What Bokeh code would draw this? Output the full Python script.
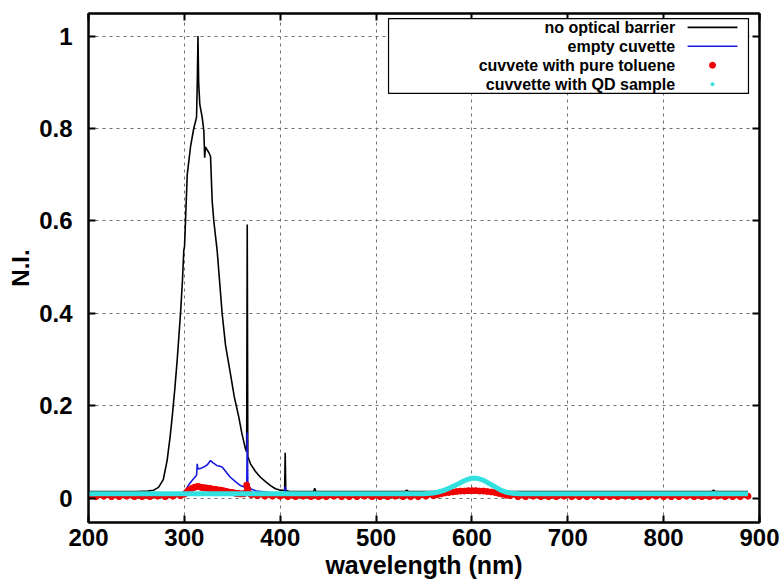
from bokeh.plotting import figure
from bokeh.models import (FixedTicker, CustomJSTickFormatter, LinearAxis, BoxAnnotation, Label,
                          Range1d, Title)
from bokeh.embed import file_html
from bokeh.resources import INLINE

# ---------------- data ----------------
x_ticks = [200, 300, 400, 500, 600, 700, 800, 900]
y_ticks = [0, 0.2, 0.4, 0.6, 0.8, 1]

series_names = ["no optical barrier", "empty cuvette",
                "cuvvete with pure toluene", "cuvvette with QD sample"]

# no optical barrier (black line)
bare_nm = [200, 250, 262, 268, 273, 278, 282, 285, 287.3, 290, 292.5, 296, 298, 299.4,
           300.2, 301.2, 303, 306.4, 309.8, 312.7, 313.5, 314.2, 314.9, 316.1, 318.6,
           320.3, 321.2, 322, 323.2, 325.5, 327.3, 329, 330.7, 334.2, 339.4, 343, 348.1,
           352, 356.8, 360, 363.8, 365.0, 365.6, 366.2, 369, 374, 379.4, 385, 389.9, 395,
           400.3, 404.6, 405.2, 405.8, 410, 435, 436, 437, 530, 532, 534, 850, 852, 854, 888]
bare_ni = [0.014, 0.014, 0.015, 0.017, 0.023, 0.040, 0.081, 0.130, 0.175, 0.235, 0.298,
           0.400, 0.470, 0.536, 0.545, 0.600, 0.700, 0.760, 0.800, 0.824, 0.900, 1.000,
           0.900, 0.853, 0.824, 0.795, 0.737, 0.760, 0.756, 0.748, 0.740, 0.644, 0.600,
           0.536, 0.400, 0.330, 0.269, 0.220, 0.175, 0.140, 0.106, 0.100, 0.592, 0.090,
           0.074, 0.058, 0.045, 0.035, 0.027, 0.020, 0.017, 0.016, 0.098, 0.016, 0.014,
           0.014, 0.021, 0.014, 0.014, 0.017, 0.014, 0.014, 0.017, 0.014, 0.014]

# empty cuvette (blue line)
empty_nm = [200, 298, 301, 305, 308, 311, 312.8, 313.4, 314, 315, 318, 320.3, 324, 327.3,
            330, 334.2, 337, 339.4, 344, 348, 353, 358.5, 363.8, 365.1, 365.6, 366.2, 369,
            375, 390, 404.6, 405.2, 405.9, 888]
empty_ni = [0.011, 0.011, 0.016, 0.030, 0.038, 0.045, 0.050, 0.074, 0.065, 0.063, 0.065,
            0.067, 0.072, 0.081, 0.076, 0.070, 0.069, 0.067, 0.055, 0.045, 0.036, 0.027,
            0.023, 0.025, 0.142, 0.030, 0.020, 0.015, 0.012, 0.011, 0.025, 0.011, 0.011]

# cuvette with pure toluene (red points)
tol_nm = [200, 208, 216, 224, 232, 240, 248, 256, 264, 272, 280, 288, 296,
          300, 302, 304, 306, 308, 310, 312, 314, 316, 318, 320, 322, 324, 326, 328, 330,
          332, 334, 336, 338, 340, 342, 344, 346, 348, 350, 352, 354, 356, 358, 360, 362,
          364, 365, 366, 368, 370,
          376, 384, 392, 400, 408, 416, 424, 432, 440, 448, 456, 464, 472, 480, 488, 496,
          504, 512, 520, 528, 536, 544, 552,
          560, 564, 568, 572, 576, 580, 584, 588, 592, 596, 600, 604, 608, 612, 616, 620,
          624, 628, 632, 636, 640,
          648, 656, 664, 672, 680, 688, 696, 704, 712, 720, 728, 736, 744, 752, 760, 768,
          776, 784, 792, 800, 808, 816, 824, 832, 840, 848, 856, 864, 872, 880, 888]
tol_ni = [0.003, 0.003, 0.004, 0.003, 0.003, 0.004, 0.003, 0.003, 0.003, 0.004, 0.003,
          0.004, 0.005,
          0.008, 0.012, 0.016, 0.019, 0.021, 0.023, 0.024, 0.025, 0.024, 0.023, 0.022,
          0.022, 0.021, 0.021, 0.020, 0.019, 0.019, 0.018, 0.017, 0.017, 0.016, 0.015,
          0.014, 0.013, 0.012, 0.012, 0.011, 0.010, 0.010, 0.009, 0.009, 0.009, 0.011,
          0.028, 0.020, 0.010, 0.007,
          0.005, 0.004, 0.004, 0.004, 0.003, 0.003, 0.004, 0.003, 0.003, 0.003, 0.004,
          0.003, 0.003, 0.003, 0.004, 0.003, 0.003, 0.003, 0.004, 0.003, 0.003, 0.003, 0.004,
          0.005, 0.007, 0.009, 0.011, 0.012, 0.013, 0.014, 0.015, 0.015, 0.016, 0.016,
          0.016, 0.015, 0.015, 0.014, 0.013, 0.012, 0.010, 0.008, 0.006, 0.005,
          0.003, 0.003, 0.004, 0.003, 0.003, 0.003, 0.004, 0.003, 0.003, 0.003, 0.004,
          0.003, 0.003, 0.003, 0.004, 0.003, 0.003, 0.003, 0.004, 0.003, 0.003, 0.003,
          0.004, 0.003, 0.003, 0.003, 0.004, 0.003, 0.003, 0.003, 0.004]

# cuvette with QD sample (cyan points, dense)
qd_nm = [200, 300, 400, 500, 540, 550, 560, 565, 570, 575, 580, 585, 590, 595, 600, 605,
         610, 615, 620, 625, 630, 635, 640, 645, 650, 660, 700, 800, 888]
qd_ni = [0.009, 0.009, 0.009, 0.009, 0.009, 0.009, 0.011, 0.013, 0.016, 0.020, 0.025,
         0.030, 0.035, 0.040, 0.043, 0.043, 0.040, 0.035, 0.029, 0.023, 0.017, 0.013,
         0.011, 0.010, 0.009, 0.009, 0.009, 0.009, 0.009]

# ---------------- styling ----------------
FONT = "Liberation Sans"
BLACK, BLUE, RED, CYAN = "#000000", "#1a1ae0", "#f00000", "#33e0e0"

p = figure(width=782, height=584, x_range=Range1d(200, 900), y_range=Range1d(-0.053, 1.049),
           output_backend="svg", toolbar_location=None,
           min_border_left=88, min_border_right=23, min_border_top=13, min_border_bottom=62)
p.background_fill_color = "white"
p.border_fill_color = "white"
p.outline_line_color = "black"
p.outline_line_width = 2

p.xaxis.ticker = FixedTicker(ticks=x_ticks)
p.yaxis.ticker = FixedTicker(ticks=y_ticks)
p.yaxis.formatter = CustomJSTickFormatter(code="return String(tick);")
p.xgrid.ticker = FixedTicker(ticks=x_ticks)
p.ygrid.ticker = FixedTicker(ticks=y_ticks)
p.grid.grid_line_color = "#707070"
p.grid.grid_line_dash = "3 4"
p.grid.grid_line_width = 1

for ax in (p.xaxis[0], p.yaxis[0]):
    ax.major_tick_in = 7
    ax.major_tick_out = 0
    ax.minor_tick_line_color = None
    ax.axis_line_width = 2
    ax.major_tick_line_width = 2
    ax.major_label_text_font = FONT
    ax.major_label_text_font_style = "bold"
    ax.major_label_text_font_size = "24px"
    ax.major_label_text_color = "black"
    ax.axis_label_text_font = FONT
    ax.axis_label_text_font_style = "bold"
    ax.axis_label_text_font_size = "24px"
    ax.axis_label_text_color = "black"

p.yaxis.axis_label = "N.I."
p.xaxis.major_label_standoff = 6
p.yaxis.major_label_standoff = 16
p.yaxis.axis_label_standoff = 2

# x-axis title, gnuplot-like: a little right of the frame centre
p.add_layout(Title(text="wavelength (nm)", align="center", offset=15, standoff=0,
                   text_font=FONT, text_font_style="bold", text_font_size="25px",
                   text_color="black"), "below")

# mirrored ticks on top and right (no labels)
top_ax = LinearAxis(ticker=FixedTicker(ticks=x_ticks), major_label_text_font_size="1px",
                    major_label_text_color=None, major_label_standoff=0, major_tick_in=7,
                    major_tick_out=0, minor_tick_line_color=None, axis_line_width=2,
                    major_tick_line_width=2)
right_ax = LinearAxis(ticker=FixedTicker(ticks=y_ticks), major_label_text_font_size="1px",
                      major_label_text_color=None, major_label_standoff=0, major_tick_in=7,
                      major_tick_out=0, minor_tick_line_color=None, axis_line_width=2,
                      major_tick_line_width=2)
p.add_layout(top_ax, "above")
p.add_layout(right_ax, "right")

# ---------------- data glyphs ----------------
p.line(bare_nm, bare_ni, line_color=BLACK, line_width=1.6)
p.line(empty_nm, empty_ni, line_color=BLUE, line_width=1.6)
p.line(tol_nm, tol_ni, line_color=RED, line_width=3)
p.scatter(tol_nm, tol_ni, marker="circle", size=6, fill_color=RED, line_color=RED)
p.line(qd_nm, qd_ni, line_color=CYAN, line_width=5)

# ---------------- legend (gnuplot style: text right-aligned, sample on right) ----------------
LEG_LEFT, LEG_RIGHT, LEG_TOP, LEG_BOTTOM = 513, 888.5, 1.038, 0.876
LEG_TEXT_X = 812
LEG_SAMPLE_X0, LEG_SAMPLE_X1 = 825, 877
LEG_ROWS = [1.019, 0.978, 0.937, 0.896]

p.add_layout(BoxAnnotation(left=LEG_LEFT, right=LEG_RIGHT, top=LEG_TOP, bottom=LEG_BOTTOM,
                           fill_color="white", fill_alpha=1.0, line_color="black",
                           line_width=1.2, line_alpha=1.0))
for name, yrow in zip(series_names, LEG_ROWS):
    p.add_layout(Label(x=LEG_TEXT_X, y=yrow, text=name, text_align="right",
                       text_baseline="middle", text_font=FONT, text_font_style="bold",
                       text_font_size="16px", text_color="black", level="overlay"))

mid = (LEG_SAMPLE_X0 + LEG_SAMPLE_X1) / 2
r1 = p.line([LEG_SAMPLE_X0, LEG_SAMPLE_X1], [LEG_ROWS[0]] * 2, line_color=BLACK, line_width=1.6)
r2 = p.line([LEG_SAMPLE_X0, LEG_SAMPLE_X1], [LEG_ROWS[1]] * 2, line_color=BLUE, line_width=1.6)
r3 = p.scatter([mid], [LEG_ROWS[2]], marker="circle", size=6, fill_color=RED, line_color=RED)
r4 = p.scatter([mid], [LEG_ROWS[3]], marker="circle", size=3, fill_color=CYAN, line_color=CYAN)
for r in (r1, r2, r3, r4):
    r.level = "overlay"

open("out.html", "w").write(file_html(p, INLINE))
